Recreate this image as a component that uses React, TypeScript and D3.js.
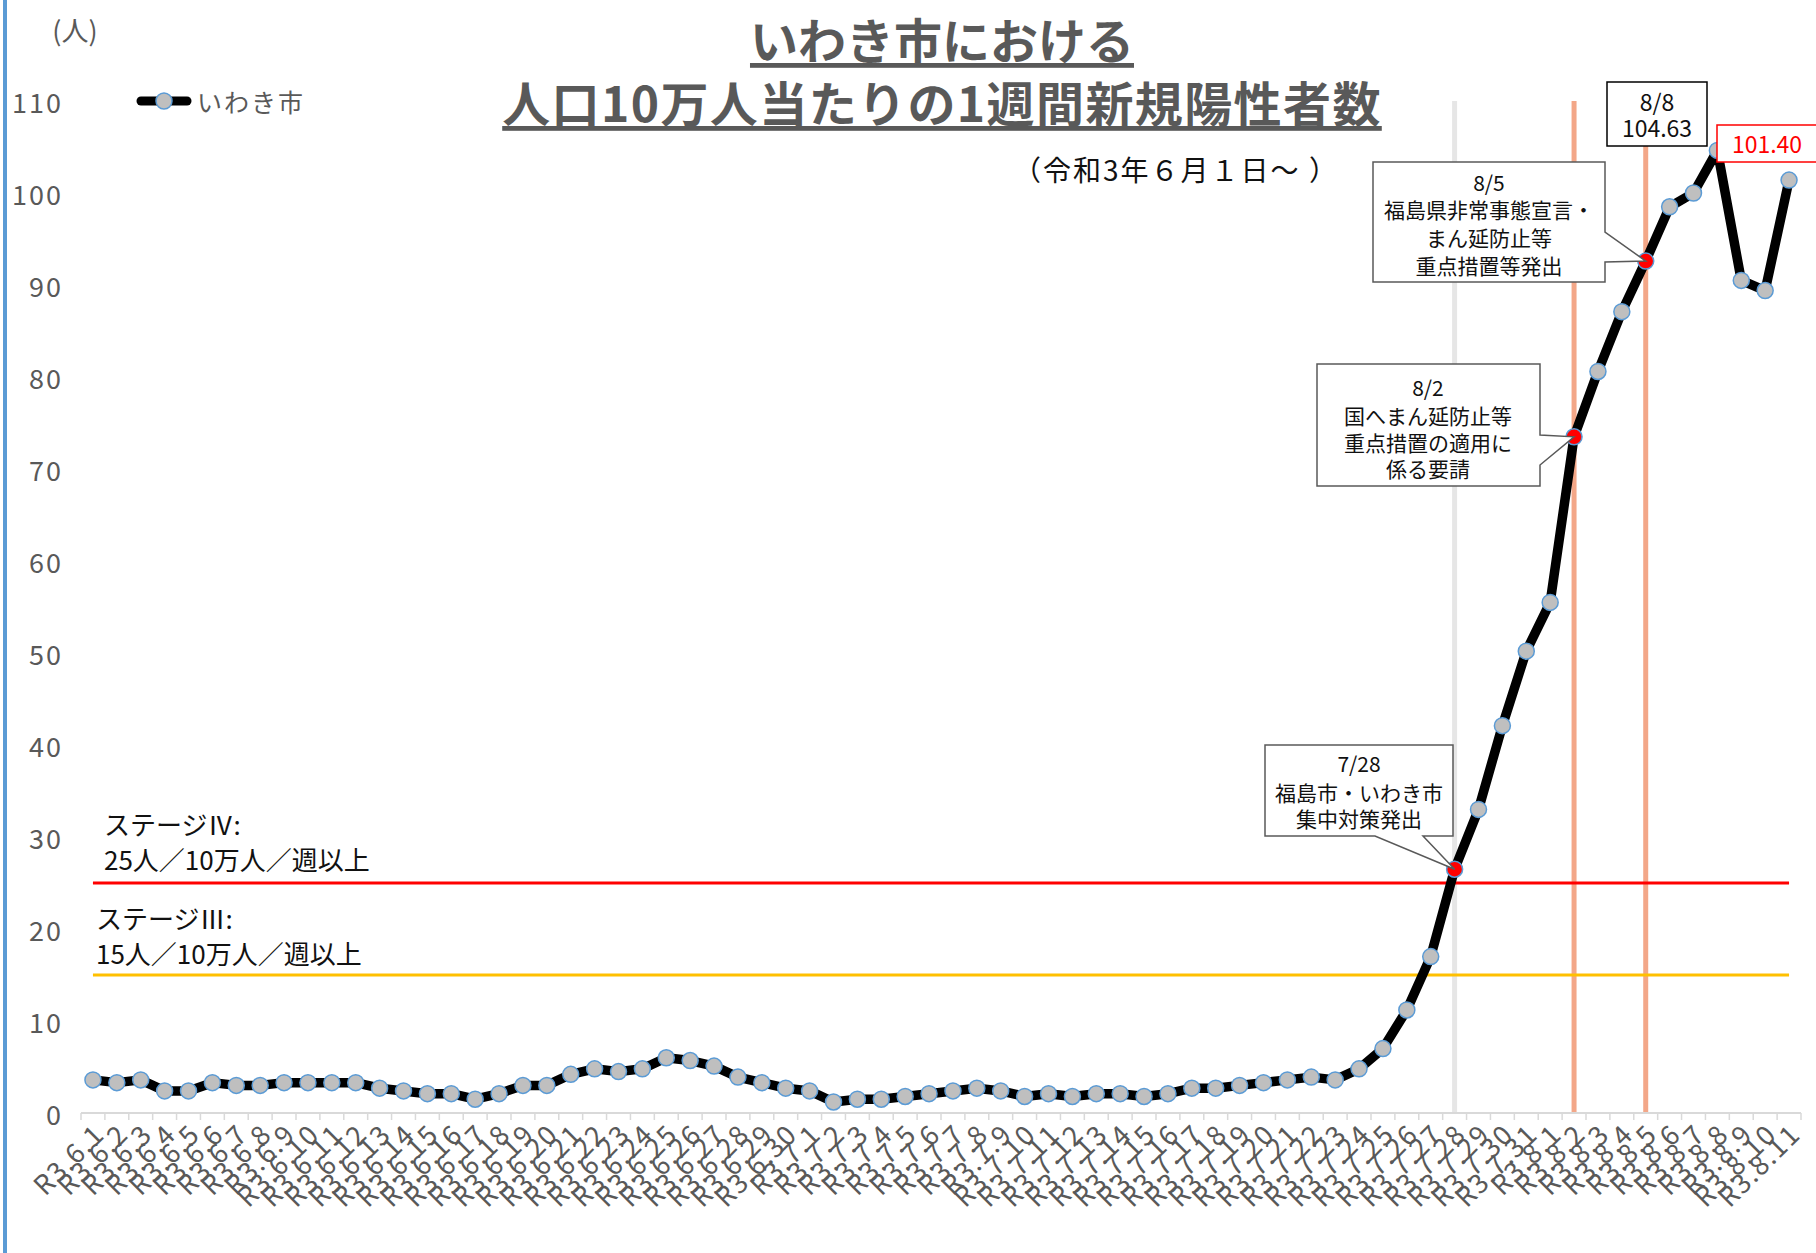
import React from "react";
import * as d3 from "d3";

const W = 1816;
const H = 1253;

const JUNE_VALUES = [3.6, 3.3, 3.6, 2.4, 2.4, 3.3, 3.0, 3.0, 3.3, 3.3, 3.3, 3.3, 2.7, 2.4, 2.1, 2.1, 1.5, 2.1, 3.0, 3.0, 4.2, 4.8, 4.5, 4.8, 6.0, 5.7, 5.1, 3.9, 3.3, 2.7];
const JULY_VALUES = [2.4, 1.2, 1.5, 1.5, 1.8, 2.1, 2.4, 2.7, 2.4, 1.8, 2.1, 1.8, 2.1, 2.1, 1.8, 2.1, 2.7, 2.7, 3.0, 3.3, 3.6, 3.9, 3.6, 4.8, 7.0, 11.2, 17.0, 26.5, 33.0, 42.1, 50.2];
const AUG_VALUES = [55.5, 73.5, 80.6, 87.1, 92.6, 98.5, 100.0, 104.63, 90.5, 89.4, 101.4];

const JUNE_LABELS = JUNE_VALUES.map((_, i) => `R3.6.${i + 1}`);
const JULY_LABELS = JULY_VALUES.map((_, i) => `R3.7.${i + 1}`);
const AUG_LABELS = AUG_VALUES.map((_, i) => `R3.8.${i + 1}`);

const CATEGORIES = [...JUNE_LABELS, ...JULY_LABELS, ...AUG_LABELS];
const VALUES = [...JUNE_VALUES, ...JULY_VALUES, ...AUG_VALUES];

const Y_TICKS = [0, 10, 20, 30, 40, 50, 60, 70, 80, 90, 100, 110];
const STAGE4 = 25;
const STAGE3 = 15;
const HIGHLIGHT = ["R3.7.28", "R3.8.2", "R3.8.5"];
const GREY_VLINE = "R3.7.28";
const SALMON_VLINES = ["R3.8.2", "R3.8.5"];

const FONT = "'Noto Sans CJK JP', 'Noto Sans', sans-serif";

export default function App() {
  const x = d3.scaleBand<string>().domain(CATEGORIES).range([81, 1801]).padding(0);
  const y = d3.scaleLinear().domain([0, 110]).range([1113, 101]);
  const cx = (c: string) => (x(c) as number) + x.bandwidth() / 2;
  const data = CATEGORIES.map((c, i) => ({ c, v: VALUES[i] }));
  const line = d3
    .line<{ c: string; v: number }>()
    .x((d) => cx(d.c))
    .y((d) => y(d.v))
    .curve(d3.curveLinear);

  const tickXs = d3.range(CATEGORIES.length + 1).map((i) => 81 + i * x.step());
  const x0 = cx(CATEGORIES[0]);
  const x1 = cx(CATEGORIES[CATEGORIES.length - 1]);

  const pt = (c: string) => [cx(c), y(VALUES[CATEGORIES.indexOf(c)])];
  const [t1x, t1y] = pt("R3.7.28");
  const [t2x, t2y] = pt("R3.8.2");
  const [t3x, t3y] = pt("R3.8.5");

  const calloutStyle = { fill: "#fff", stroke: "#595959", strokeWidth: 1.5 };
  const cText = { fontFamily: FONT, fontSize: 21, fill: "#111", textAnchor: "middle" as const, dominantBaseline: "central" as const };

  return (
    <svg width={W} height={H} style={{ position: "absolute", left: 0, top: 0, background: "#fff" }}>
      <rect x={0} y={0} width={W} height={H} fill="#fff" />
      <rect x={3} y={0} width={4} height={H} fill="#5B9BD5" />

      {/* title */}
      <g fontFamily={FONT} fill="#595959" fontWeight={700} textAnchor="middle">
        <text x={942} y={38} fontSize={48} dominantBaseline="central" textDecoration="underline">いわき市における</text>
        <text x={942} y={101} fontSize={48} dominantBaseline="central" textDecoration="underline" letterSpacing={1.4}>人口10万人当たりの1週間新規陽性者数</text>
      </g>
      <text x={1176} y={169} fontFamily={FONT} fontSize={28} fill="#111" textAnchor="middle" dominantBaseline="central" letterSpacing={2}>（令和3年６月１日～ ）</text>

      <text x={75} y={29} fontFamily={FONT} fontSize={27} fill="#595959" textAnchor="middle" dominantBaseline="central">(人)</text>

      {/* y tick labels */}
      {Y_TICKS.map((t) => (
        <text key={t} x={63} y={y(t)} fontFamily={FONT} fontSize={27} fill="#595959" textAnchor="end" dominantBaseline="central" letterSpacing={2}>{t}</text>
      ))}

      {/* vertical event lines */}
      <line x1={cx(GREY_VLINE)} x2={cx(GREY_VLINE)} y1={y(110)} y2={y(0)} stroke="#E6E6E6" strokeWidth={5} />
      {SALMON_VLINES.map((c) => (
        <line key={c} x1={cx(c)} x2={cx(c)} y1={y(110)} y2={y(0)} stroke="#F3A788" strokeWidth={5} />
      ))}

      {/* x axis */}
      <line x1={81} x2={1801} y1={y(0)} y2={y(0)} stroke="#D9D9D9" strokeWidth={2} />
      {tickXs.map((tx, i) => (
        <line key={i} x1={tx} x2={tx} y1={y(0)} y2={y(0) + 7} stroke="#D9D9D9" strokeWidth={1.5} />
      ))}
      {CATEGORIES.map((c) => (
        <text key={c} transform={`translate(${cx(c) + 5},${y(0) + 15}) rotate(-45)`} fontFamily={FONT} fontSize={27} fill="#595959" textAnchor="end" dominantBaseline="central" letterSpacing={1.5}>{c}</text>
      ))}

      {/* stage lines */}
      <line x1={x0} x2={x1} y1={y(STAGE4)} y2={y(STAGE4)} stroke="#FF0000" strokeWidth={3} />
      <line x1={x0} x2={x1} y1={y(STAGE3)} y2={y(STAGE3)} stroke="#FFC000" strokeWidth={3} />
      <g fontFamily={FONT} fontSize={26} fill="#111" dominantBaseline="central">
        <text x={104} y={823}>ステージⅣ:</text>
        <text x={104} y={858}>25人／10万人／週以上</text>
        <text x={96} y={917}>ステージⅢ:</text>
        <text x={96} y={952}>15人／10万人／週以上</text>
      </g>

      {/* data line */}
      <path d={line(data) as string} fill="none" stroke="#000" strokeWidth={9.5} strokeLinejoin="round" strokeLinecap="round" />
      {data.map((d) => (
        <circle key={d.c} cx={cx(d.c)} cy={y(d.v)} r={8} fill={HIGHLIGHT.includes(d.c) ? "#FF0000" : "#BFBFBF"} stroke="#5B9BD5" strokeWidth={1.5} />
      ))}

      {/* legend */}
      <line x1={141} x2={187} y1={101} y2={101} stroke="#000" strokeWidth={9} strokeLinecap="round" />
      <circle cx={164} cy={101} r={8} fill="#BFBFBF" stroke="#5B9BD5" strokeWidth={1.5} />
      <text x={197} y={101} fontFamily={FONT} fontSize={25} fill="#595959" dominantBaseline="central" letterSpacing={2}>いわき市</text>

      {/* callout 7/28 */}
      <path d={`M1265,745 H1453 V836 H1423 L${t1x},${t1y} L1375,836 H1265 Z`} {...calloutStyle} />
      <text x={1359} y={763} {...cText}>7/28</text>
      <text x={1359} y={792} {...cText}>福島市・いわき市</text>
      <text x={1359} y={818} {...cText}>集中対策発出</text>

      {/* callout 8/2 */}
      <path d={`M1317,364 H1540 V435 L${t2x},${t2y} L1540,465 V486 H1317 Z`} {...calloutStyle} />
      <text x={1428} y={387} {...cText}>8/2</text>
      <text x={1428} y={415} {...cText}>国へまん延防止等</text>
      <text x={1428} y={442} {...cText}>重点措置の適用に</text>
      <text x={1428} y={468} {...cText}>係る要請</text>

      {/* callout 8/5 */}
      <path d={`M1373,162 H1605 V232 L${t3x},${t3y} L1605,262 V282 H1373 Z`} {...calloutStyle} />
      <text x={1489} y={182} {...cText}>8/5</text>
      <text x={1489} y={209} {...cText}>福島県非常事態宣言・</text>
      <text x={1489} y={237} {...cText}>まん延防止等</text>
      <text x={1489} y={265} {...cText}>重点措置等発出</text>

      {/* 8/8 peak label */}
      <rect x={1607} y={82} width={100} height={64} fill="#fff" stroke="#000" strokeWidth={1.5} />
      <text x={1657} y={101} {...cText} fontSize={23}>8/8</text>
      <text x={1657} y={127} {...cText} fontSize={23}>{VALUES[CATEGORIES.indexOf("R3.8.8")].toFixed(2)}</text>

      {/* latest value label */}
      <rect x={1717} y={125} width={110} height={37} fill="#fff" stroke="#FF0000" strokeWidth={1.5} />
      <text x={1767} y={143} {...cText} fontSize={23} fill="#FF0000">{VALUES[VALUES.length - 1].toFixed(2)}</text>
    </svg>
  );
}
